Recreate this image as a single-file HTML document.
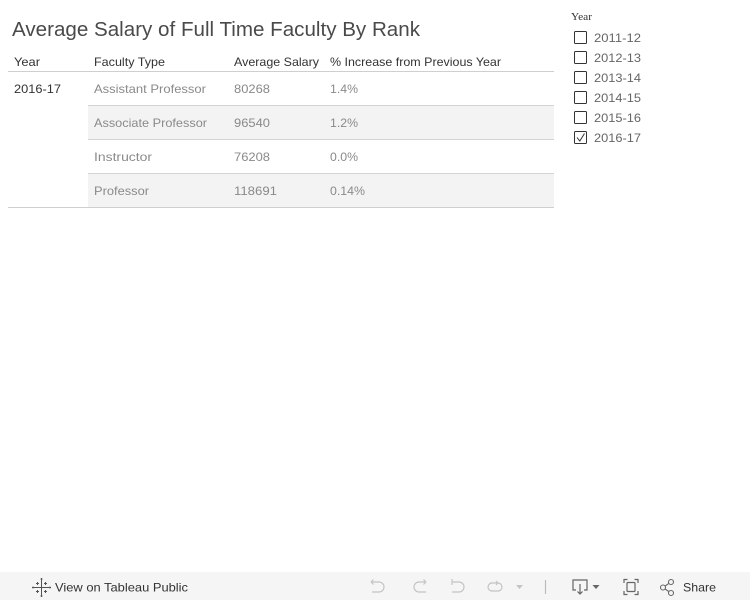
<!DOCTYPE html>
<html>
<head>
<meta charset="utf-8">
<style>
html,body{margin:0;padding:0;background:#fff;}
body{width:750px;height:600px;overflow:hidden;}
svg{display:block;}
text{font-family:"Liberation Sans",sans-serif;}
</style>
</head>
<body>
<svg width="750" height="600" viewBox="0 0 750 600" xmlns="http://www.w3.org/2000/svg">
  <!-- Title -->
  <text x="12" y="36" font-size="20" fill="#4a4a4a" textLength="408" lengthAdjust="spacingAndGlyphs">Average Salary of Full Time Faculty By Rank</text>

  <!-- Header -->
  <g font-size="12" fill="#333">
    <text x="14" y="66" textLength="26" lengthAdjust="spacingAndGlyphs">Year</text>
    <text x="94" y="66" textLength="71" lengthAdjust="spacingAndGlyphs">Faculty Type</text>
    <text x="234" y="66" textLength="85" lengthAdjust="spacingAndGlyphs">Average Salary</text>
    <text x="330" y="66" textLength="171" lengthAdjust="spacingAndGlyphs">% Increase from Previous Year</text>
  </g>

  <!-- Row shading -->
  <rect x="88" y="106" width="466" height="33" fill="#f3f3f3"/>
  <rect x="88" y="174" width="466" height="33" fill="#f3f3f3"/>

  <!-- Lines -->
  <rect x="8" y="71" width="546" height="1" fill="#cfcfcf"/>
  <rect x="88" y="105" width="466" height="1" fill="#d4d4d4"/>
  <rect x="88" y="139" width="466" height="1" fill="#d4d4d4"/>
  <rect x="88" y="173" width="466" height="1" fill="#d4d4d4"/>
  <rect x="8" y="207" width="546" height="1" fill="#cfcfcf"/>

  <!-- Year cell -->
  <text x="14" y="93" font-size="12" fill="#333" textLength="47" lengthAdjust="spacingAndGlyphs">2016-17</text>

  <!-- Rows -->
  <g font-size="12" fill="#8a8a8a">
    <text x="94" y="93" textLength="112" lengthAdjust="spacingAndGlyphs">Assistant Professor</text>
    <text x="234" y="93" textLength="36" lengthAdjust="spacingAndGlyphs">80268</text>
    <text x="330" y="93" textLength="28" lengthAdjust="spacingAndGlyphs">1.4%</text>

    <text x="94" y="127" textLength="113" lengthAdjust="spacingAndGlyphs">Associate Professor</text>
    <text x="234" y="127" textLength="36" lengthAdjust="spacingAndGlyphs">96540</text>
    <text x="330" y="127" textLength="28" lengthAdjust="spacingAndGlyphs">1.2%</text>

    <text x="94" y="161" textLength="58" lengthAdjust="spacingAndGlyphs">Instructor</text>
    <text x="234" y="161" textLength="36" lengthAdjust="spacingAndGlyphs">76208</text>
    <text x="330" y="161" textLength="28" lengthAdjust="spacingAndGlyphs">0.0%</text>

    <text x="94" y="195" textLength="55" lengthAdjust="spacingAndGlyphs">Professor</text>
    <text x="234" y="195" textLength="43" lengthAdjust="spacingAndGlyphs">118691</text>
    <text x="330" y="195" textLength="35" lengthAdjust="spacingAndGlyphs">0.14%</text>
  </g>

  <!-- Filter -->
  <text x="571" y="20" font-size="11" fill="#333" style="font-family:'Liberation Serif',serif" textLength="21" lengthAdjust="spacingAndGlyphs">Year</text>
  <g fill="none" stroke="#333" stroke-width="1">
    <rect x="574.5" y="31.5" width="12" height="12" rx="1"/>
    <rect x="574.5" y="51.5" width="12" height="12" rx="1"/>
    <rect x="574.5" y="71.5" width="12" height="12" rx="1"/>
    <rect x="574.5" y="91.5" width="12" height="12" rx="1"/>
    <rect x="574.5" y="111.5" width="12" height="12" rx="1"/>
    <rect x="574.5" y="131.5" width="12" height="12" rx="1"/>
    <path d="M577 137.5 L579.8 141 L584.5 133.5" stroke="#333"/>
  </g>
  <g font-size="12" fill="#666">
    <text x="594" y="42" textLength="47" lengthAdjust="spacingAndGlyphs">2011-12</text>
    <text x="594" y="62" textLength="47" lengthAdjust="spacingAndGlyphs">2012-13</text>
    <text x="594" y="82" textLength="47" lengthAdjust="spacingAndGlyphs">2013-14</text>
    <text x="594" y="102" textLength="47" lengthAdjust="spacingAndGlyphs">2014-15</text>
    <text x="594" y="122" textLength="47" lengthAdjust="spacingAndGlyphs">2015-16</text>
    <text x="594" y="142" textLength="47" lengthAdjust="spacingAndGlyphs">2016-17</text>
  </g>

  <!-- Toolbar -->
  <rect x="0" y="572" width="750" height="28" fill="#f5f5f5"/>
  <!-- Tableau logo -->
  <g stroke="#555" stroke-width="1" fill="none">
    <path d="M41.5 580 v15 M34 587.5 h15"/>
    <path d="M37.5 582 v3 M36 583.5 h3"/>
    <path d="M45.5 582 v3 M44 583.5 h3"/>
    <path d="M37.5 590 v3 M36 591.5 h3"/>
    <path d="M45.5 590 v3 M44 591.5 h3"/>
    <path d="M41.5 578 v2 M40.5 579 h2"/>
    <path d="M41.5 595 v2 M40.5 596 h2"/>
    <path d="M33 586.5 v2 M34 587.5 h-2"/>
    <path d="M50 586.5 v2 M49 587.5 h2"/>
  </g>
  <text x="55" y="591.5" font-size="12" fill="#333" textLength="133" lengthAdjust="spacingAndGlyphs">View on Tableau Public</text>

  <!-- undo/redo etc (disabled) -->
  <g stroke="#c4c4c4" stroke-width="1.2" fill="none">
    <path d="M371 582 h8 a5 5 0 0 1 0 10 h-7"/>
    <path d="M371 582 l2.5 -2.5 M371 582 l2.5 2.5"/>
    <path d="M426 582 h-7 a5 5 0 0 0 0 10 h7"/>
    <path d="M426 582 l-2.5 -2.5 M426 582 l-2.5 2.5"/>
    <path d="M452 579 v6 M452 582 h7 a5 5 0 0 1 0 10 h-7"/>
    <path d="M490 583 h8 a4 4 0 0 1 0 8 h-6 a4 4 0 0 1 0 -8"/>
    <path d="M498 583 l-2 -2 M498 583 l-2 2"/>
    <path d="M545.5 580 v14" stroke="#bbb"/>
  </g>
  <path d="M516 585 h7 l-3.5 4 z" fill="#c4c4c4"/>

  <!-- download -->
  <g stroke="#666" stroke-width="1.2" fill="none">
    <path d="M576 590 h-3 v-10 h14 v10 h-3"/>
    <path d="M580 584 v10 M577.5 591.5 l2.5 2.5 l2.5 -2.5"/>
  </g>
  <path d="M592.5 585 h7 l-3.5 4 z" fill="#666"/>
  <!-- fullscreen -->
  <g stroke="#666" stroke-width="1.2" fill="none">
    <path d="M624 583 v-3.5 h3.5 M634.5 579.5 h3.5 v3.5 M638 591 v3.5 h-3.5 M627.5 594.5 h-3.5 v-3.5"/>
    <rect x="627" y="582.5" width="8" height="9" rx="1"/>
  </g>
  <!-- share -->
  <g stroke="#666" stroke-width="1.1" fill="none">
    <circle cx="663" cy="587.5" r="2.5"/>
    <circle cx="671" cy="582" r="2.5"/>
    <circle cx="671" cy="593" r="2.5"/>
    <path d="M665.2 586 l3.6 -2.6 M665.2 589 l3.6 2.6"/>
  </g>
  <text x="683" y="591.5" font-size="12" fill="#333" textLength="33" lengthAdjust="spacingAndGlyphs">Share</text>
</svg>
</body>
</html>
